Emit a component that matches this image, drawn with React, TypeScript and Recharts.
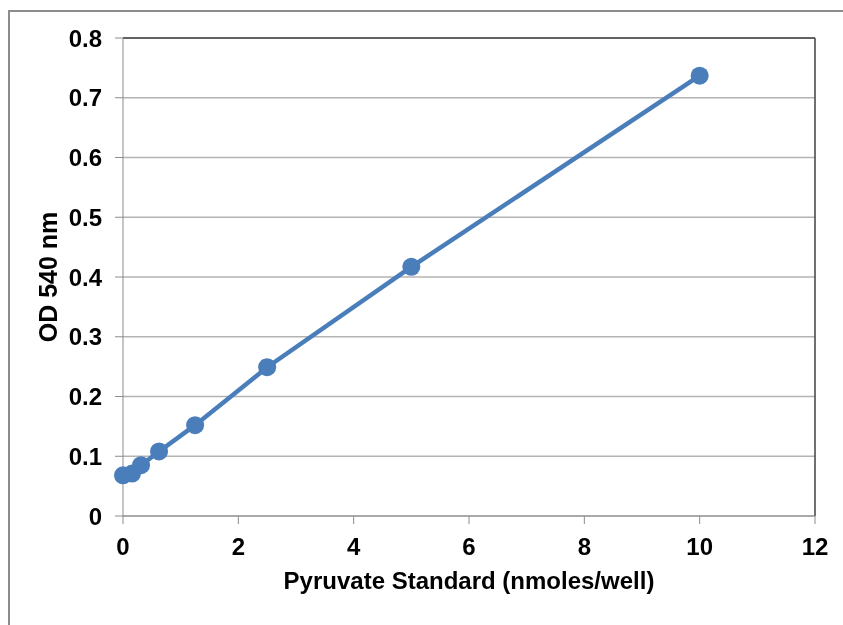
import { CartesianGrid, Line, LineChart, ReferenceLine, XAxis, YAxis } from "recharts";

const standardNmoles = [0, 0.156, 0.3125, 0.625, 1.25, 2.5, 5, 10];
const od540 = [0.068, 0.071, 0.085, 0.108, 0.152, 0.249, 0.417, 0.737];
const xTicks = [0, 2, 4, 6, 8, 10, 12];
const yTicks = [0, 0.1, 0.2, 0.3, 0.4, 0.5, 0.6, 0.7, 0.8];

const BLUE = "#4a7ebb";
const FONT = '"Liberation Sans", Arial, sans-serif';

const data = standardNmoles.map((x, i) => ({ x, od: od540[i] }));

const tickStyle = { fill: "#000", fontSize: 24, fontWeight: 700, fontFamily: FONT };
const labelStyle = { fill: "#000", fontSize: 24, fontWeight: 700, fontFamily: FONT };

export default function App() {
  return (
    <div style={{ position: "relative", width: 827, height: 609 }}>
      {/* outer chart frame; its right and bottom edges fall outside the window */}
      <div
        style={{
          position: "fixed",
          left: 8,
          top: 10,
          width: 900,
          height: 700,
          borderTop: "2px solid #8c8c8c",
          borderLeft: "2px solid #8c8c8c",
          pointerEvents: "none",
        }}
      />
      <div style={{ position: "absolute", left: 0, top: 0 }}>
        <LineChart
          width={827}
          height={609}
          data={data}
          margin={{ top: 30, right: 20, bottom: 0, left: 0 }}
        >
          <CartesianGrid horizontal vertical={false} stroke="#b3b3b3" strokeWidth={1.5} />
          <XAxis
            type="number"
            dataKey="x"
            domain={[0, 12]}
            ticks={xTicks}
            height={101}
            tickSize={8}
            tickMargin={14}
            stroke="#8c8c8c"
            tick={tickStyle}
            label={{
              value: "Pyruvate Standard (nmoles/well)",
              position: "insideBottom",
              offset: 28,
              style: labelStyle,
            }}
          />
          <YAxis
            type="number"
            domain={[0, 0.8]}
            ticks={yTicks}
            width={115}
            tickSize={8}
            tickMargin={13}
            stroke="#8c8c8c"
            tick={tickStyle}
            tickFormatter={(v: number) => (v === 0 ? "0" : v.toFixed(1))}
            label={{
              value: "OD 540 nm",
              angle: -90,
              position: "insideLeft",
              offset: 40,
              style: { ...labelStyle, fontSize: 25, textAnchor: "middle" },
            }}
          />
          <ReferenceLine y={0.8} stroke="#404040" strokeWidth={1.5} />
          <ReferenceLine x={12} stroke="#404040" strokeWidth={1.5} />
          <Line
            type="linear"
            dataKey="od"
            stroke={BLUE}
            strokeWidth={4.5}
            dot={{ r: 9, fill: BLUE, stroke: "none" }}
            activeDot={false}
            isAnimationActive={false}
          />
        </LineChart>
      </div>
    </div>
  );
}
